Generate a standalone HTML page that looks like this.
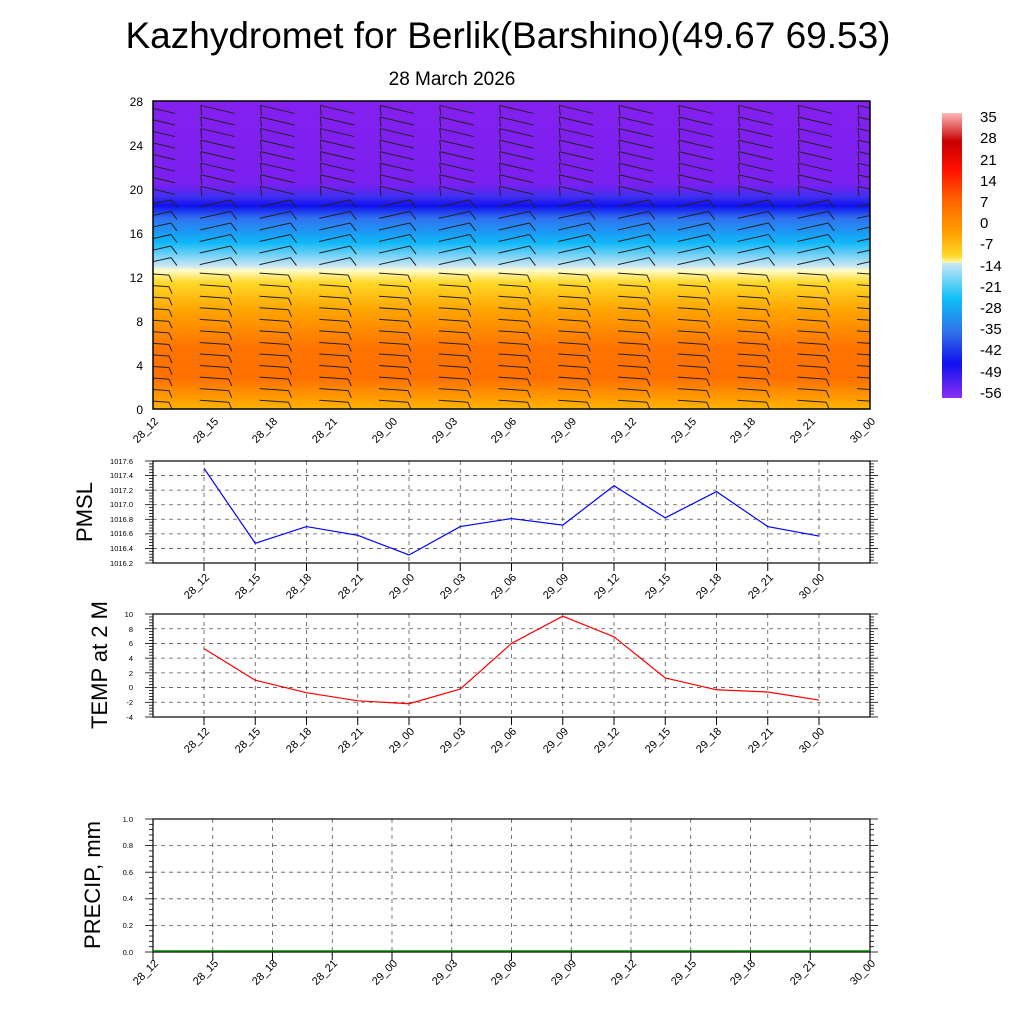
<!DOCTYPE html>
<html><head><meta charset="utf-8"><style>
html,body{margin:0;padding:0;background:#fff}
svg{display:block;font-family:"Liberation Sans",sans-serif}
</style></head><body>
<svg id="s" width="1024" height="1024" viewBox="0 0 1024 1024" xmlns="http://www.w3.org/2000/svg">
<defs>
<clipPath id="cp"><rect x="153" y="101" width="717" height="308"/></clipPath>
<linearGradient id="tg" x1="0" y1="0" x2="0" y2="1">
<stop offset="0" stop-color="#8420f0"/>
<stop offset="0.27" stop-color="#7a20f0"/>
<stop offset="0.31" stop-color="#4030f0"/>
<stop offset="0.34" stop-color="#1010f0"/>
<stop offset="0.38" stop-color="#3070f0"/>
<stop offset="0.46" stop-color="#10b8f8"/>
<stop offset="0.535" stop-color="#c8e6f4"/>
<stop offset="0.55" stop-color="#fffcc8"/>
<stop offset="0.59" stop-color="#ffd828"/>
<stop offset="0.68" stop-color="#ffa400"/>
<stop offset="0.80" stop-color="#ff7400"/>
<stop offset="0.90" stop-color="#ff7000"/>
<stop offset="0.97" stop-color="#ffa000"/>
<stop offset="1" stop-color="#ffb400"/>
</linearGradient>
<linearGradient id="cb" x1="0" y1="0" x2="0" y2="1">
<stop offset="0" stop-color="#ffb8b8"/>
<stop offset="0.1" stop-color="#c80000"/>
<stop offset="0.2" stop-color="#ff1000"/>
<stop offset="0.3" stop-color="#ff6000"/>
<stop offset="0.42" stop-color="#ffa000"/>
<stop offset="0.5" stop-color="#ffd828"/>
<stop offset="0.525" stop-color="#fff8b0"/>
<stop offset="0.527" stop-color="#c8e6f4"/>
<stop offset="0.65" stop-color="#10c0f8"/>
<stop offset="0.77" stop-color="#3070e8"/>
<stop offset="0.88" stop-color="#1010f0"/>
<stop offset="1" stop-color="#8a30f0"/>
</linearGradient>
</defs>
<text x="508" y="48" font-size="37" text-anchor="middle">Kazhydromet for Berlik(Barshino)(49.67 69.53)</text>
<text x="452" y="85" font-size="19" text-anchor="middle">28 March 2026</text>

<rect x="153" y="101" width="717" height="308" fill="url(#tg)"/>
<g id="barbs" stroke="#222" stroke-width="1" fill="none" clip-path="url(#cp)"></g>
<rect x="153" y="101" width="717" height="308" fill="none" stroke="#000" stroke-width="1.5"/>
<g font-size="12" text-anchor="end">
<text x="143" y="106">28</text><text x="143" y="150">24</text><text x="143" y="194">20</text><text x="143" y="238">16</text><text x="143" y="282">12</text><text x="143" y="326">8</text><text x="143" y="370">4</text><text x="143" y="414">0</text>
</g>
<g font-size="11" text-anchor="end">
<text transform="translate(159,422) rotate(-45)">28_12</text>
<text transform="translate(219,422) rotate(-45)">28_15</text>
<text transform="translate(278,422) rotate(-45)">28_18</text>
<text transform="translate(338,422) rotate(-45)">28_21</text>
<text transform="translate(398,422) rotate(-45)">29_00</text>
<text transform="translate(458,422) rotate(-45)">29_03</text>
<text transform="translate(517,422) rotate(-45)">29_06</text>
<text transform="translate(577,422) rotate(-45)">29_09</text>
<text transform="translate(637,422) rotate(-45)">29_12</text>
<text transform="translate(697,422) rotate(-45)">29_15</text>
<text transform="translate(756,422) rotate(-45)">29_18</text>
<text transform="translate(816,422) rotate(-45)">29_21</text>
<text transform="translate(876,422) rotate(-45)">30_00</text>
</g>

<rect x="942" y="113" width="20" height="285" fill="url(#cb)"/>
<g font-size="15">
<text x="980" y="122">35</text><text x="980" y="143">28</text><text x="980" y="165">21</text><text x="980" y="186">14</text><text x="980" y="207">7</text><text x="980" y="228">0</text><text x="980" y="249">-7</text><text x="980" y="271">-14</text><text x="980" y="292">-21</text><text x="980" y="313">-28</text><text x="980" y="334">-35</text><text x="980" y="355">-42</text><text x="980" y="377">-49</text><text x="980" y="398">-56</text>
</g>

<g id="p1"></g><g id="p2"></g><g id="p3"></g>
<text transform="translate(92,512) rotate(-90)" font-size="22" text-anchor="middle">PMSL</text>
<text transform="translate(107,665) rotate(-90)" font-size="22" text-anchor="middle">TEMP at 2 M</text>
<text transform="translate(100,885) rotate(-90)" font-size="22" text-anchor="middle">PRECIP, mm</text>
<g font-size="7.5" text-anchor="end">
<text x="133" y="464">1017.6</text><text x="133" y="478">1017.4</text><text x="133" y="493">1017.2</text><text x="133" y="507">1017.0</text><text x="133" y="522">1016.8</text><text x="133" y="536">1016.6</text><text x="133" y="551">1016.4</text><text x="133" y="566">1016.2</text>
<text x="133" y="617">10</text><text x="133" y="632">8</text><text x="133" y="646">6</text><text x="133" y="661">4</text><text x="133" y="676">2</text><text x="133" y="690">0</text><text x="133" y="705">-2</text><text x="133" y="720">-4</text>
<text x="133" y="822">1.0</text><text x="133" y="848">0.8</text><text x="133" y="875">0.6</text><text x="133" y="901">0.4</text><text x="133" y="928">0.2</text><text x="133" y="955">0.0</text>
</g>
<g font-size="11" text-anchor="end">
<text transform="translate(210,578) rotate(-45)">28_12</text><text transform="translate(261,578) rotate(-45)">28_15</text><text transform="translate(312,578) rotate(-45)">28_18</text><text transform="translate(364,578) rotate(-45)">28_21</text><text transform="translate(415,578) rotate(-45)">29_00</text><text transform="translate(466,578) rotate(-45)">29_03</text><text transform="translate(517,578) rotate(-45)">29_06</text><text transform="translate(569,578) rotate(-45)">29_09</text><text transform="translate(620,578) rotate(-45)">29_12</text><text transform="translate(671,578) rotate(-45)">29_15</text><text transform="translate(722,578) rotate(-45)">29_18</text><text transform="translate(774,578) rotate(-45)">29_21</text><text transform="translate(825,578) rotate(-45)">30_00</text>
<text transform="translate(210,732) rotate(-45)">28_12</text><text transform="translate(261,732) rotate(-45)">28_15</text><text transform="translate(312,732) rotate(-45)">28_18</text><text transform="translate(364,732) rotate(-45)">28_21</text><text transform="translate(415,732) rotate(-45)">29_00</text><text transform="translate(466,732) rotate(-45)">29_03</text><text transform="translate(517,732) rotate(-45)">29_06</text><text transform="translate(569,732) rotate(-45)">29_09</text><text transform="translate(620,732) rotate(-45)">29_12</text><text transform="translate(671,732) rotate(-45)">29_15</text><text transform="translate(722,732) rotate(-45)">29_18</text><text transform="translate(774,732) rotate(-45)">29_21</text><text transform="translate(825,732) rotate(-45)">30_00</text>
<text transform="translate(159,964) rotate(-45)">28_12</text><text transform="translate(219,964) rotate(-45)">28_15</text><text transform="translate(278,964) rotate(-45)">28_18</text><text transform="translate(338,964) rotate(-45)">28_21</text><text transform="translate(398,964) rotate(-45)">29_00</text><text transform="translate(458,964) rotate(-45)">29_03</text><text transform="translate(517,964) rotate(-45)">29_06</text><text transform="translate(577,964) rotate(-45)">29_09</text><text transform="translate(637,964) rotate(-45)">29_12</text><text transform="translate(697,964) rotate(-45)">29_15</text><text transform="translate(756,964) rotate(-45)">29_18</text><text transform="translate(816,964) rotate(-45)">29_21</text><text transform="translate(876,964) rotate(-45)">30_00</text>
</g>
</svg>
<script>
var NS="http://www.w3.org/2000/svg";
function el(p,t,a){var e=document.createElementNS(NS,t);for(var k in a)e.setAttribute(k,a[k]);p.appendChild(e);return e;}
var b=document.getElementById("barbs");
for(var i=0;i<13;i++){var cx=153+i*59.75;
 for(var v=0.8;v<28;v+=1.05){var y=409-v*11;
  if(v<12.5){el(b,"line",{x1:cx-13,y1:y,x2:cx+16,y2:y+2});el(b,"line",{x1:cx+16,y1:y+2,x2:cx+19,y2:y+9});}
  else if(v<19){el(b,"line",{x1:cx-13,y1:y+3,x2:cx+18,y2:y-4});el(b,"line",{x1:cx+18,y1:y-4,x2:cx+24,y2:y+4});}
  else {el(b,"line",{x1:cx-12,y1:y-6,x2:cx+22,y2:y+2});el(b,"line",{x1:cx-12,y1:y-6,x2:cx-11,y2:y+4});}
 }}
function panel(g,top,bot,x0,dx,n,ny,minor,data,min,max,col){
 var G=document.getElementById(g);
 for(var j=1;j<ny;j++){var y=top+(bot-top)*j/ny;el(G,"line",{x1:153,y1:y,x2:870,y2:y,stroke:"#555","stroke-dasharray":"4,4","stroke-width":0.8});}
 for(var i=0;i<n;i++){var x=x0+i*dx;el(G,"line",{x1:x,y1:top,x2:x,y2:bot,stroke:"#555","stroke-dasharray":"4,4","stroke-width":0.8});el(G,"line",{x1:x,y1:bot,x2:x,y2:bot+8,stroke:"#000"});}
 var m=ny*minor;for(var j=0;j<=m;j++){var y=top+(bot-top)*j/m;var L=(j%minor==0)?8:4;
  el(G,"line",{x1:153,y1:y,x2:153-L,y2:y,stroke:"#000","stroke-width":0.8});el(G,"line",{x1:870,y1:y,x2:870+L,y2:y,stroke:"#000","stroke-width":0.8});}
 el(G,"rect",{x:153,y:top,width:717,height:bot-top,fill:"none",stroke:"#000","stroke-width":1.2});
 if(data){var p="";for(var i=0;i<data.length;i++){p+=(x0+i*dx)+","+(bot-(data[i]-min)/(max-min)*(bot-top))+" ";}
 el(G,"polyline",{points:p,fill:"none",stroke:col,"stroke-width":1.2});}
}
panel("p1",461,563,204,51.25,13,7,5,[1017.5,1016.47,1016.7,1016.58,1016.31,1016.7,1016.81,1016.72,1017.26,1016.82,1017.18,1016.7,1016.57],1016.2,1017.6,"#00f");
panel("p2",614,717,204,51.25,13,7,5,[5.3,1.0,-0.7,-1.8,-2.2,-0.2,6,9.7,6.9,1.3,-0.3,-0.6,-1.7],-4,10,"#f00");
panel("p3",819,952,153,59.75,13,5,5,null,0,1,"#080");
el(document.getElementById("p3"),"line",{x1:153,y1:951,x2:870,y2:951,stroke:"#080","stroke-width":1.5});
</script>
</body></html>
